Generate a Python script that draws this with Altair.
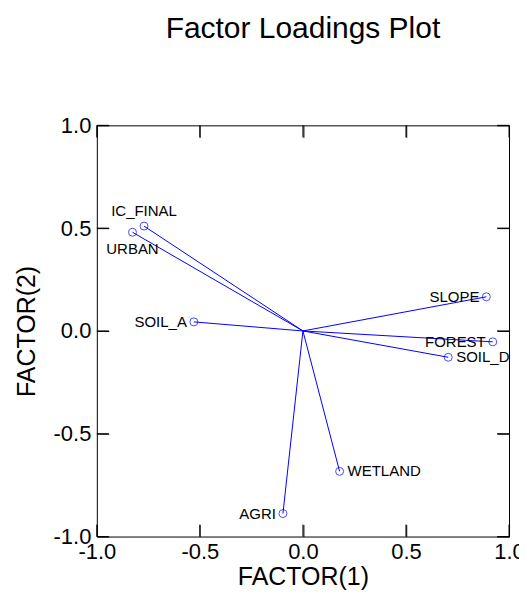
import altair as alt
import pandas as pd

names = ["IC_FINAL", "URBAN", "SOIL_A", "SLOPE", "FOREST", "SOIL_D", "WETLAND", "AGRI"]
factor1 = [-0.771, -0.827, -0.529, 0.890, 0.921, 0.705, 0.178, -0.097]
factor2 = [0.510, 0.480, 0.044, 0.166, -0.053, -0.128, -0.683, -0.888]
tick_values = [-1.0, -0.5, 0.0, 0.5, 1.0]
axis_min, axis_max = -1.0, 1.0

df = pd.DataFrame({"name": names, "f1": factor1, "f2": factor2})
df["zero"] = 0.0
ticks_df = pd.DataFrame({"v": tick_values})
ticks_df["lo"] = axis_min
ticks_df["hi"] = axis_max

FONT = "Liberation Sans"
BLUE = "#0000FF"
LABEL_EXPR = "replace(format(datum.value, '.1f'), '\u2212', '-')"

xscale = alt.Scale(domain=[axis_min, axis_max], nice=False, zero=False)
yscale = alt.Scale(domain=[axis_min, axis_max], nice=False, zero=False)

common = dict(values=tick_values, labelExpr=LABEL_EXPR, domain=False, grid=False,
              labelFont=FONT, titleFont=FONT, labelColor="black", titleColor="black",
              titleFontWeight="normal", labelFontSize=22, titleFontSize=25,
              labelFlush=False, tickColor="black", tickWidth=1)

x_bottom = alt.Axis(orient="bottom", title="FACTOR(1)", offset=-12, tickSize=12,
                    labelPadding=5, titlePadding=2, **common)
y_left = alt.Axis(orient="left", title="FACTOR(2)", offset=-12, tickSize=12,
                  labelPadding=6, titlePadding=14, **common)
x_top = alt.Axis(orient="top", title=None, labels=False, offset=-12, tickSize=12,
                 values=tick_values, domain=False, grid=False, tickColor="black", tickWidth=1)
y_right = alt.Axis(orient="right", title=None, labels=False, offset=-12, tickSize=12,
                   values=tick_values, domain=False, grid=False, tickColor="black", tickWidth=1)

base = alt.Chart(df)

lines = base.mark_rule(color=BLUE, strokeWidth=1).encode(
    x=alt.X("zero:Q", scale=xscale, axis=x_bottom),
    y=alt.Y("zero:Q", scale=yscale, axis=y_left),
    x2="f1:Q",
    y2="f2:Q",
)

pts = base.mark_point(shape="circle", filled=False, color=BLUE, size=64, strokeWidth=1).encode(
    x=alt.X("f1:Q", scale=xscale, axis=x_top),
    y=alt.Y("f2:Q", scale=yscale, axis=y_right),
)

def label_layer(names_sel, **kw):
    return base.transform_filter(
        alt.FieldOneOfPredicate(field="name", oneOf=names_sel)
    ).mark_text(font=FONT, fontSize=15, color="black", clip=True, **kw).encode(
        x=alt.X("f1:Q", scale=xscale, axis=None),
        y=alt.Y("f2:Q", scale=yscale, axis=None),
        text="name:N",
    )

lab_above = label_layer(["IC_FINAL"], align="center", baseline="alphabetic", dy=-10)
lab_below = label_layer(["URBAN"], align="center", baseline="alphabetic", dy=22)
lab_left = label_layer(["SOIL_A", "SLOPE", "FOREST", "AGRI"], align="right", baseline="middle", dx=-7)
lab_right = label_layer(["SOIL_D", "WETLAND"], align="left", baseline="middle", dx=8)

# inward tick marks on all four sides of the frame
TL = 12
tbase = alt.Chart(ticks_df)
ticks_bottom = tbase.mark_rule(color="black", strokeWidth=1, y2Offset=-TL).encode(
    x=alt.X("v:Q", scale=xscale, axis=None),
    y=alt.Y("lo:Q", scale=yscale, axis=None), y2="lo:Q")
ticks_top = tbase.mark_rule(color="black", strokeWidth=1, y2Offset=TL).encode(
    x=alt.X("v:Q", scale=xscale, axis=None),
    y=alt.Y("hi:Q", scale=yscale, axis=None), y2="hi:Q")
ticks_left = tbase.mark_rule(color="black", strokeWidth=1, x2Offset=TL).encode(
    y=alt.Y("v:Q", scale=yscale, axis=None),
    x=alt.X("lo:Q", scale=xscale, axis=None), x2="lo:Q")
ticks_right = tbase.mark_rule(color="black", strokeWidth=1, x2Offset=-TL).encode(
    y=alt.Y("v:Q", scale=yscale, axis=None),
    x=alt.X("hi:Q", scale=xscale, axis=None), x2="hi:Q")

chart = alt.layer(lines, pts, lab_above, lab_below, lab_left, lab_right,
                  ticks_bottom, ticks_top, ticks_left, ticks_right).properties(
    width=413,
    height=412,
    background="white",
    title=alt.TitleParams("Factor Loadings Plot", fontSize=30, font=FONT, fontWeight="normal",
                          anchor="middle", offset=71, color="black"),
    autosize=alt.AutoSizeParams(type="none"),
    padding={"left": 89, "top": 117, "right": 10, "bottom": 55},
).configure_view(
    stroke="black", strokeWidth=1
)

chart.save("out.html", embed_options={"renderer": "svg", "actions": False})
